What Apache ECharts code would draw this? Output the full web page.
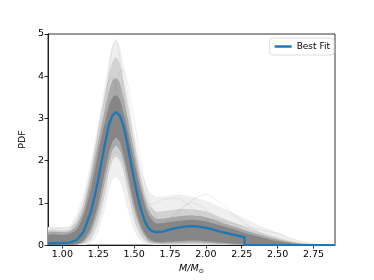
<!DOCTYPE html>
<html><head><meta charset="utf-8">
<script src="https://cdn.jsdelivr.net/npm/echarts@6/dist/echarts.min.js"></script>
<style>html,body{margin:0;padding:0;background:#fff}#c{width:374px;height:280px}</style>
</head><body><div id="c"></div>
<script>
// shared x grid for sample density bands / sample lines
const xs = [0.9,1.0,1.05,1.1,1.15,1.2,1.25,1.3,1.325,1.35,1.375,1.4,1.425,1.45,1.5,1.55,1.6,1.65,1.7,1.8,1.9,2.0,2.1,2.2,2.3,2.4,2.5,2.6,2.7,2.8,2.9];
// band 1: envelope of all posterior sample curves (faintest)
const band1Lo = [0,0,0,0,0,0.05,0.3,0.9,1.3,1.55,1.6,1.5,1.25,0.9,0.35,0.08,0.02,0,0,0,0,0,0,0,0,0,0,0,0,0,0];
const band1Hi = [0.42,0.42,0.45,0.75,1.25,2.0,2.9,3.9,4.4,4.75,4.88,4.7,4.3,3.8,2.7,1.8,1.3,1.15,1.15,1.2,1.15,1.05,0.9,0.75,0.58,0.42,0.3,0.15,0.06,0.02,0];
// band 2
const band2Lo = [0,0,0,0,0.03,0.15,0.55,1.25,1.7,2.0,2.1,2.0,1.75,1.35,0.6,0.2,0.05,0.02,0.01,0.01,0.02,0.01,0,0,0,0,0,0,0,0,0];
const band2Hi = [0.35,0.35,0.38,0.6,1.05,1.8,2.7,3.6,4.05,4.35,4.45,4.3,3.9,3.45,2.5,1.6,1.0,0.8,0.8,0.85,0.85,0.8,0.66,0.53,0.4,0.28,0.18,0.09,0.03,0.01,0];
// band 3
const band3Lo = [0,0,0,0.01,0.08,0.3,0.8,1.55,1.95,2.25,2.35,2.25,2.0,1.6,0.85,0.35,0.1,0.05,0.04,0.05,0.06,0.05,0.03,0.01,0,0,0,0,0,0,0];
const band3Hi = [0.3,0.3,0.32,0.47,0.88,1.6,2.45,3.25,3.65,3.9,3.95,3.85,3.5,3.1,2.25,1.42,0.85,0.63,0.63,0.68,0.7,0.66,0.55,0.44,0.32,0.22,0.13,0.06,0.02,0,0];
// band 4: dense core
const band4Lo = [0,0,0,0.02,0.12,0.42,0.98,1.8,2.2,2.45,2.55,2.45,2.15,1.8,1.0,0.45,0.16,0.08,0.07,0.09,0.11,0.09,0.06,0.03,0.01,0,0,0,0,0,0];
const band4Hi = [0.24,0.24,0.27,0.37,0.72,1.35,2.2,2.95,3.3,3.5,3.55,3.45,3.15,2.8,2.0,1.25,0.72,0.52,0.52,0.57,0.6,0.56,0.47,0.37,0.26,0.17,0.09,0.04,0.01,0,0];
// a few individual faint sample curves
const sample1 = [0.02,0.02,0.03,0.06,0.2,0.7,1.8,3.3,4.1,4.7,4.8,4.4,3.7,2.8,1.3,0.45,0.15,0.08,0.08,0.12,0.15,0.13,0.08,0.05,0.03,0.01,0,0,0,0,0];
const sample2 = [0.3,0.3,0.32,0.4,0.6,0.95,1.4,1.85,2.05,2.15,2.2,2.15,2.0,1.8,1.4,1.1,0.98,1.0,1.08,1.1,0.9,0.6,0.35,0.18,0.08,0.03,0,0,0,0,0];
const sample3 = [0.1,0.1,0.12,0.25,0.7,1.6,2.7,3.6,3.9,3.95,3.75,3.3,2.7,2.0,0.95,0.4,0.25,0.3,0.45,0.8,1.0,0.85,0.5,0.25,0.1,0.04,0,0,0,0,0];
const sample4 = [0.05,0.05,0.06,0.1,0.25,0.6,1.2,2.0,2.4,2.7,2.9,2.95,2.85,2.6,1.9,1.2,0.7,0.5,0.5,0.75,1.05,1.2,1.0,0.7,0.45,0.25,0.12,0.05,0.02,0,0];
const sample5 = [0.4,0.4,0.42,0.5,0.75,1.2,1.9,2.6,2.9,3.05,3.05,2.9,2.55,2.1,1.3,0.75,0.45,0.35,0.35,0.45,0.55,0.6,0.58,0.5,0.42,0.35,0.28,0.15,0.06,0.02,0];
const sample6 = [0.15,0.15,0.18,0.3,0.55,0.95,1.6,2.4,2.9,3.4,3.8,4.1,4.15,3.9,3.0,1.9,1.1,0.7,0.55,0.6,0.7,0.65,0.5,0.4,0.3,0.2,0.1,0.04,0,0,0];
const samples = [sample1, sample2, sample3, sample4, sample5, sample6];
// best fit curve
const bestX = [0.9,1.0,1.05,1.1,1.15,1.2,1.225,1.25,1.275,1.3,1.325,1.35,1.375,1.4,1.425,1.45,1.475,1.5,1.525,1.55,1.575,1.6,1.625,1.65,1.7,1.75,1.8,1.85,1.9,1.95,2.0,2.05,2.1,2.15,2.2,2.25,2.27,2.27,2.3,2.9];
const bestY = [0.04,0.05,0.06,0.12,0.33,0.8,1.15,1.55,2.0,2.45,2.85,3.08,3.15,3.07,2.83,2.45,2.0,1.56,1.15,0.82,0.56,0.4,0.33,0.31,0.32,0.37,0.41,0.44,0.45,0.44,0.41,0.37,0.32,0.28,0.24,0.2,0.19,0.0,0.0,0.0];
const xTicks = [1.00,1.25,1.50,1.75,2.00,2.25,2.50,2.75];
const yTicks = [0,1,2,3,4,5];

const zip = (a, b) => a.map((v, i) => [v, b[i]]);
function band(lo, hi, color, z) {
  return {
    type: 'custom', silent: true, clip: true, z: z,
    data: [[xs[0], 0]],
    renderItem: function (params, api) {
      const pts = [];
      for (let i = 0; i < xs.length; i++) pts.push(api.coord([xs[i], hi[i]]));
      for (let i = xs.length - 1; i >= 0; i--) pts.push(api.coord([xs[i], lo[i]]));
      return { type: 'polygon', shape: { points: pts, smooth: 0.25 }, style: { fill: color } };
    }
  };
}
const series = [
  band(band1Lo, band1Hi, '#efefef', 1),
  band(band2Lo, band2Hi, '#d2d2d2', 2),
  band(band3Lo, band3Hi, '#aaaaaa', 3),
  band(band4Lo, band4Hi, '#868686', 4)
];
samples.forEach(s => series.push({
  type: 'line', data: zip(xs, s), showSymbol: false, smooth: 0.3, silent: true, z: 5,
  lineStyle: { color: '#8a8a8a', width: 0.6, opacity: 0.25 }
}));
series.push({
  name: 'Best Fit', type: 'line', data: zip(bestX, bestY), showSymbol: false, z: 10,
  lineStyle: { color: '#1f77b4', width: 2.3 }, itemStyle: { color: '#1f77b4' }
});

const chart = echarts.init(document.getElementById('c'), null, { renderer: 'canvas' });
const font = 'DejaVu Sans';
chart.setOption({
  animation: false,
  backgroundColor: '#fff',
  grid: { left: 48, right: 39, top: 34, bottom: 31, show: true, borderColor: '#000', borderWidth: 0.8, backgroundColor: 'transparent' },
  legend: {
    data: [{ name: 'Best Fit', icon: 'rect' }], right: 40, top: 38,
    itemWidth: 17, itemHeight: 2.5, itemGap: 5,
    padding: [4, 4, 4, 5], borderColor: '#d6d6d6', borderWidth: 0.8, borderRadius: 3,
    backgroundColor: 'rgba(255,255,255,0.8)',
    textStyle: { fontFamily: font, fontSize: 9, color: '#000' }
  },
  xAxis: {
    type: 'value', min: 0.9, max: 2.9,
    name: '{i|M/M}{s|⊙}', nameLocation: 'middle', nameGap: 17,
    nameTextStyle: { rich: {
      i: { fontFamily: font, fontStyle: 'italic', fontSize: 9.5, color: '#000' },
      s: { fontFamily: font, fontSize: 6.5, color: '#000', padding: [5, 0, 0, 0] }
    } },
    axisLine: { show: true, lineStyle: { color: '#000', width: 0.8 } },
    axisTick: { show: true, inside: false, length: 3.5, lineStyle: { color: '#000', width: 0.8 }, customValues: xTicks },
    axisLabel: { customValues: xTicks, fontFamily: font, fontSize: 9.5, color: '#000', margin: 4,
      formatter: v => v.toFixed(2) },
    splitLine: { show: false }
  },
  yAxis: {
    type: 'value', min: 0, max: 5, interval: 1,
    name: 'PDF', nameLocation: 'middle', nameGap: 16, nameRotate: 90,
    nameTextStyle: { fontFamily: font, fontSize: 9.5, color: '#000' },
    axisLine: { show: true, lineStyle: { color: '#000', width: 0.8 } },
    axisTick: { show: true, inside: false, length: 3.5, lineStyle: { color: '#000', width: 0.8 } },
    axisLabel: { fontFamily: font, fontSize: 9.5, color: '#000', margin: 4,
      formatter: v => yTicks.includes(v) ? String(v) : '' },
    splitLine: { show: false }
  },
  series: series
});
</script></body></html>
